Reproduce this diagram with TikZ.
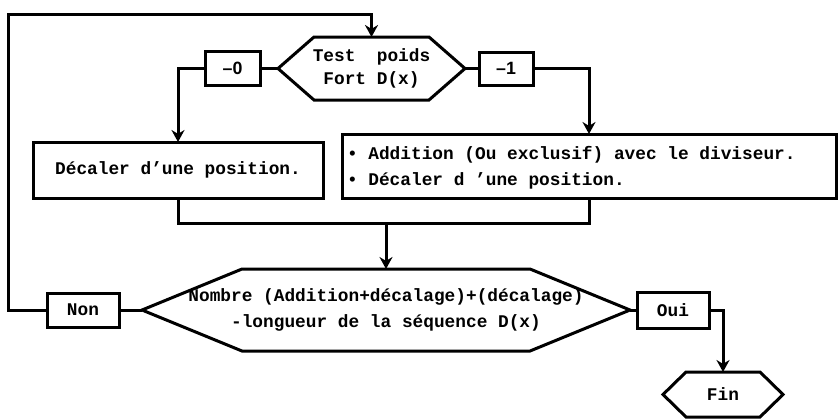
\documentclass[tikz,border=0pt]{standalone}
\usepackage{fontspec}
\setmainfont{Liberation Mono}[WordSpace={1,0,0}]
\newfontfamily\sansb{Liberation Sans}
\usetikzlibrary{arrows.meta,calc}
\newcommand\hexout[2]{\draw (#1.west) -- ($(#1.north west)+(#2,0)$) -- ($(#1.north east)+(-#2,0)$) -- (#1.east) -- ($(#1.south east)+(-#2,0)$) -- ($(#1.south west)+(#2,0)$) -- cycle;}
\begin{document}
\frenchspacing
\begin{tikzpicture}[x=0.5pt,y=-0.5pt, line width=1.5pt,
  every node/.style={font=\fontsize{8.9}{13}\selectfont\bfseries, inner sep=0pt, outer sep=0pt},
  box/.style={draw, rectangle},
  hexa/.style={rectangle, draw=none, align=center},
  signbox/.style={box, font=\sansb\fontsize{8.9}{11}\selectfont\bfseries},
  arr/.style={-{Stealth[length=6pt,width=6.5pt]}},
]
\useasboundingbox (0,0) rectangle (838,419);
% nodes
\node[hexa, minimum width=93.5pt, minimum height=31.5pt, font=\fontsize{8.9}{11.5}\selectfont\bfseries] (test) at (371.5,68.5) {Test\ \ poids\\Fort D(x)};
\node[signbox, minimum width=27.5pt, minimum height=17pt] (m0) at (232.5,68.5) {–0};
\node[signbox, minimum width=27pt, minimum height=16.5pt] (m1) at (506,68.5) {–1};
\node[box, minimum width=145pt, minimum height=28pt] (dec) at (178,170) {Décaler d’une position.};
\node[box, minimum width=247pt, minimum height=32pt] (add) at (589,166) {};
\node[anchor=west, align=left] (addtext) at ($(add.west)+(5,2)$) {• Addition (Ou exclusif) avec le diviseur.\\• Décaler d ’une position.};
\node[hexa, minimum width=244pt, minimum height=41pt] (cond) at (386,310) {Nombre (Addition+décalage)+(décalage)\\-longueur de la séquence D(x)};
\node[box, minimum width=36pt, minimum height=17pt] (non) at (83,310) {Non};
\node[box, minimum width=36pt, minimum height=18pt] (oui) at (673,310) {Oui};
\node[hexa, minimum width=60pt, minimum height=22.5pt] (fin) at (723,394.5) {Fin};
% hexagon outlines
\hexout{test}{36}
\hexout{cond}{100}
\hexout{fin}{23}
% connectors
\draw (test.west) -- (m0.east);
\draw[arr] (m0.west) -| (dec.north);
\draw (test.east) -- (m1.west);
\draw[arr] (m1.east) -| (add.north);
\coordinate (j) at (386,223);
\draw (dec.south) |- (j);
\draw (add.south) |- (j);
\draw[arr] (j) -- (cond.north);
\coordinate (c) at (8,14);
\draw (cond.west) -- (non.east);
\draw[arr] (non.west) -| (c) -| (test.north);
\draw (cond.east) -- (oui.west);
\draw[arr] (oui.east) -| (fin.north);
\end{tikzpicture}
\end{document}
